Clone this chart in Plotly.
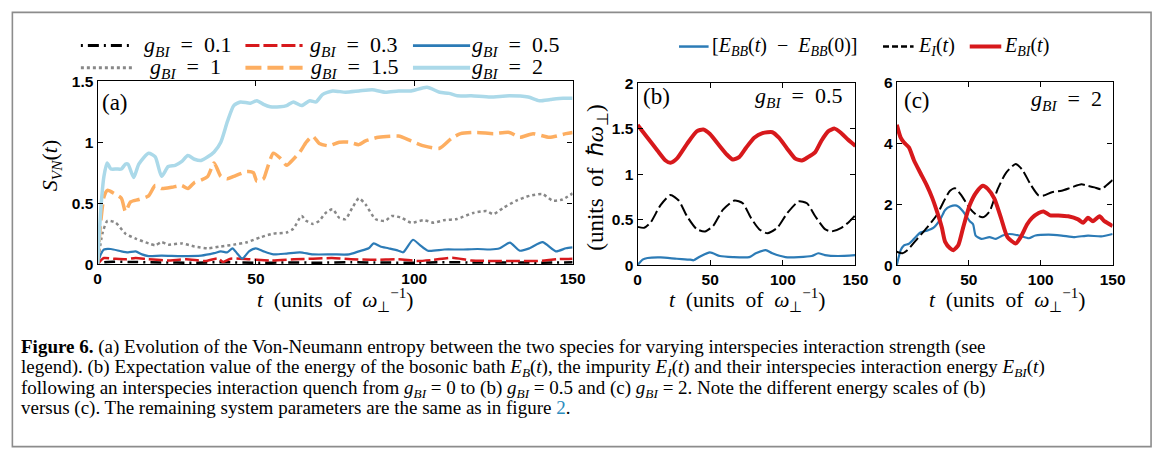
import plotly.graph_objects as go

W, H = 1168, 457

# ---------------- data ----------------
# panel (a): Von-Neumann entropy S_VN(t)
t_g01 = [0, 2, 5, 10, 20, 30, 40, 50, 60, 70, 80, 90, 100, 110, 120, 130, 140, 150]
s_g01 = [0, 0.015, 0.02, 0.018, 0.014, 0.012, 0.016, 0.011, 0.014, 0.012, 0.015, 0.013, 0.012, 0.016, 0.013, 0.014, 0.012, 0.015]

t_g03 = [0, 1, 2, 5, 9, 12, 16, 22, 28, 34, 38, 39.6, 42, 48, 55, 62, 68, 74, 80, 88, 95, 101, 106, 112, 118, 125, 132, 139, 145, 150]
s_g03 = [0, 0.03, 0.05, 0.045, 0.04, 0.05, 0.04, 0.03, 0.04, 0.026, 0.047, 0.018, 0.045, 0.04, 0.03, 0.04, 0.045, 0.05, 0.04, 0.035, 0.04, 0.026, 0.035, 0.053, 0.03, 0.026, 0.026, 0.026, 0.04, 0.045]

t_g05 = [0, 1, 2, 4.2, 7.5, 9.6, 12, 14, 16.1, 20.2, 26.5, 32.7, 36.8, 38.9, 41, 42.6, 44, 45.7, 47.8, 50, 52.4, 55.5, 59.7, 63.9, 68, 74.2, 79.4, 82.5, 85.6, 87.2, 89.3, 91.8, 95, 96.5, 99.6, 101.7, 104.3, 109.5, 114.7, 120, 124, 127, 130.2, 133.3, 136.4, 140.5, 144.7, 147.9, 150]
s_g05 = [0, 0.08, 0.12, 0.124, 0.105, 0.097, 0.105, 0.08, 0.066, 0.07, 0.066, 0.07, 0.09, 0.105, 0.097, 0.13, 0.09, 0.045, 0.105, 0.13, 0.105, 0.08, 0.087, 0.097, 0.08, 0.08, 0.08, 0.105, 0.13, 0.17, 0.145, 0.13, 0.11, 0.097, 0.2, 0.158, 0.11, 0.12, 0.12, 0.124, 0.12, 0.13, 0.176, 0.11, 0.13, 0.18, 0.105, 0.13, 0.137]

t_g1 = [0, 1.5, 3.1, 5.7, 8.8, 12, 16.1, 18.2, 20.2, 22.3, 26.5, 30.6, 34.8, 38.9, 43, 47.2, 51.4, 55.5, 59.7, 61.8, 64.4, 65.9, 68, 70, 72, 74.2, 76.3, 78.3, 80.4, 82.5, 84.6, 87.7, 90.8, 92.9, 96, 99, 103, 106.2, 109.3, 113.5, 118.6, 122.8, 125, 128, 132.2, 136.4, 140.5, 143.7, 146.8, 150]
s_g1 = [0, 0.25, 0.355, 0.34, 0.25, 0.21, 0.17, 0.155, 0.18, 0.16, 0.17, 0.145, 0.13, 0.145, 0.16, 0.18, 0.22, 0.25, 0.26, 0.29, 0.395, 0.355, 0.33, 0.355, 0.42, 0.45, 0.38, 0.37, 0.46, 0.54, 0.49, 0.37, 0.355, 0.395, 0.38, 0.34, 0.36, 0.34, 0.36, 0.37, 0.42, 0.435, 0.41, 0.46, 0.52, 0.56, 0.575, 0.52, 0.53, 0.58]

t_g15 = [0, 1, 2, 3.1, 5.2, 7.5, 8.8, 10.4, 13, 16.1, 18.2, 20.2, 23.4, 26.5, 28.5, 30.6, 32.7, 34.8, 36.8, 38.9, 41, 43, 47.2, 49.2, 50.3, 52.4, 53.5, 55.5, 57.6, 59.7, 61.8, 63.9, 65.9, 67.9, 70, 73, 76.3, 79.4, 82.5, 84.6, 88.7, 95, 99, 103, 108, 111.7, 114.6, 119.8, 125, 130, 133.3, 137.5, 142.7, 147.9, 150]
s_g15 = [0, 0.35, 0.55, 0.605, 0.58, 0.54, 0.43, 0.51, 0.53, 0.56, 0.645, 0.62, 0.63, 0.645, 0.62, 0.67, 0.69, 0.72, 0.83, 0.72, 0.70, 0.72, 0.76, 0.75, 0.68, 0.70, 0.78, 0.91, 0.87, 0.81, 0.86, 0.92, 1.0, 1.05, 0.99, 0.97, 1.0, 1.0, 0.98, 1.01, 1.04, 1.05, 1.01, 0.97, 0.95, 1.03, 1.07, 1.08, 1.07, 1.08, 1.04, 1.07, 1.04, 1.07, 1.08]

t_g2 = [0, 1, 2, 3, 4.2, 6, 7.5, 8.8, 9.6, 11.4, 13, 16.1, 18.2, 20.2, 22.3, 24.5, 26.5, 28.5, 30.6, 32.7, 34.8, 36.8, 38.9, 41, 43, 45.1, 48.2, 50.3, 52.4, 54.5, 57.6, 59.7, 61.8, 64.4, 67, 69, 71, 74.2, 78.3, 82.5, 86.7, 90.8, 95, 99, 104, 108, 111, 113.6, 118, 124, 130, 136, 139.5, 143, 147, 150]
s_g2 = [0, 0.45, 0.72, 0.83, 0.78, 0.78, 0.78, 0.82, 0.82, 0.71, 0.82, 0.91, 0.88, 0.72, 0.80, 0.81, 0.84, 0.89, 0.86, 0.85, 0.88, 0.92, 1.0, 1.17, 1.30, 1.33, 1.32, 1.34, 1.31, 1.29, 1.29, 1.30, 1.33, 1.30, 1.34, 1.33, 1.39, 1.42, 1.41, 1.42, 1.43, 1.41, 1.42, 1.42, 1.45, 1.41, 1.40, 1.38, 1.38, 1.37, 1.38, 1.37, 1.34, 1.35, 1.36, 1.36]

# panel (b): g_BI = 0.5 energies
tb_ebi = [0, 6.8, 13.6, 19.2, 22.6, 27, 33.9, 40.7, 45.2, 49.8, 55.4, 61.1, 65.6, 70.1, 74.7, 80.3, 86, 92.8, 97.3, 103, 108.6, 113.1, 117.6, 122.2, 126.7, 131.2, 135.7, 140.3, 144.8, 150]
eb_ebi = [1.54, 1.40, 1.26, 1.15, 1.125, 1.17, 1.33, 1.47, 1.49, 1.44, 1.33, 1.22, 1.16, 1.19, 1.29, 1.40, 1.45, 1.46, 1.40, 1.28, 1.17, 1.15, 1.19, 1.24, 1.37, 1.47, 1.50, 1.45, 1.38, 1.31]
tb_ei = [0, 4.5, 9, 15.8, 22.6, 28.3, 33.9, 40.7, 46.4, 52, 58.8, 66.7, 72.4, 78, 83.7, 89.4, 96.2, 103, 110.9, 116.6, 122.2, 129, 133.5, 140.3, 145.9, 150]
eb_ei = [0.42, 0.41, 0.47, 0.66, 0.77, 0.71, 0.54, 0.395, 0.37, 0.43, 0.61, 0.71, 0.68, 0.52, 0.395, 0.35, 0.41, 0.57, 0.70, 0.68, 0.54, 0.395, 0.37, 0.41, 0.48, 0.55]
tb_ebb = [0, 3.4, 6.8, 15.8, 27, 36.2, 38.5, 43, 49.8, 56.6, 65.6, 76.9, 81.4, 88.2, 92.8, 101.8, 110.9, 119.9, 124.4, 129, 138, 150]
eb_ebb = [0, 0.06, 0.078, 0.085, 0.07, 0.06, 0.053, 0.095, 0.14, 0.10, 0.088, 0.088, 0.13, 0.165, 0.13, 0.088, 0.088, 0.10, 0.13, 0.11, 0.10, 0.11]

# panel (c): g_BI = 2 energies
tc_ebi = [0, 2.7, 5, 8.4, 11.9, 16.4, 21, 24.4, 27.9, 31.3, 33.6, 37, 39.3, 42.7, 46.1, 50.7, 55.3, 59.8, 63.2, 67.8, 72.4, 76.9, 82.6, 86.1, 90.6, 94, 98.6, 102, 106.6, 112.3, 119.2, 126, 129.5, 132.9, 136.3, 140.9, 144.3, 150]
ec_ebi = [4.6, 4.18, 4.02, 3.86, 3.44, 3.02, 2.6, 2.23, 1.76, 1.23, 0.76, 0.55, 0.49, 0.65, 1.23, 1.97, 2.39, 2.6, 2.5, 2.18, 1.55, 0.92, 0.71, 0.92, 1.34, 1.55, 1.71, 1.76, 1.63, 1.63, 1.6, 1.5, 1.39, 1.55, 1.44, 1.6, 1.44, 1.28]
tc_ei = [0, 3.9, 7.3, 14.2, 21, 27.9, 32.4, 37, 40.4, 45, 50.7, 55.3, 59.8, 64.4, 70.1, 75.8, 82.6, 87.2, 92.9, 98.6, 102, 107.8, 114.6, 121.5, 128.3, 132.9, 137.4, 142, 145.4, 150]
ec_ei = [0.44, 0.39, 0.49, 0.86, 1.23, 1.65, 2.07, 2.44, 2.52, 2.28, 1.86, 1.65, 1.57, 1.76, 2.49, 3.02, 3.32, 3.13, 2.65, 2.28, 2.28, 2.39, 2.44, 2.55, 2.65, 2.6, 2.55, 2.49, 2.6, 2.79]
tc_ebb = [0, 2.7, 5, 8.4, 11.9, 16.4, 21, 25.6, 30.1, 33.6, 37, 41.6, 46.1, 50.7, 53, 54.8, 58.7, 64.4, 68.9, 73.5, 78.1, 84.9, 91.8, 96.3, 105.5, 114.6, 123.7, 132.9, 142, 150]
ec_ebb = [0, 0.49, 0.65, 0.7, 0.86, 1.07, 1.13, 1.23, 1.49, 1.81, 1.92, 1.95, 1.76, 1.44, 1.34, 0.97, 0.86, 0.92, 0.86, 0.97, 1.02, 0.97, 0.88, 0.97, 1.0, 0.97, 0.92, 0.97, 0.94, 1.02]

x_ticks = [0, 50, 100, 150]
ya_ticks = [0, 0.5, 1, 1.5]
ya_labels = ["0", "0.5", "1", "1.5"]
yb_ticks = [0, 0.5, 1, 1.5, 2]
yb_labels = ["0", "0.5", "1", "1.5", "2"]
yc_ticks = [0, 2, 4, 6]

caption_lines = [
    "<b>Figure 6.</b> (a) Evolution of the Von-Neumann entropy between the two species for varying interspecies interaction strength (see",
    "legend). (b) Expectation value of the energy of the bosonic bath <i>E<sub>B</sub></i>(<i>t</i>), the impurity <i>E<sub>I</sub></i>(<i>t</i>) and their interspecies interaction energy <i>E<sub>BI</sub></i>(<i>t</i>)",
    "following an interspecies interaction quench from <i>g<sub>BI</sub></i> = 0 to (b) <i>g<sub>BI</sub></i> = 0.5 and (c) <i>g<sub>BI</sub></i> = 2. Note the different energy scales of (b)",
    "versus (c). The remaining system parameters are the same as in figure <span style='color:#2b8cbe'>2</span>.",
]

# ---------------- styles ----------------
RED, ORANGE, LBLUE, BLUE = "#d7191c", "#fdae61", "#abd9e9", "#2c7bb6"
GRAY = "#888888"
SERIF = "Liberation Serif"
SANS = "Liberation Sans"
SP = "\u2002"

def X(p):
    return p / W

def Y(p):
    return 1 - p / H

a_series = [
    (t_g01, s_g01, "black", 2.5, "2px,5px,11px,5px", "0.1"),
    (t_g03, s_g03, RED, 2.5, "14px,4px", "0.3"),
    (t_g05, s_g05, BLUE, 2.2, "solid", "0.5"),
    (t_g1, s_g1, GRAY, 2.5, "dot", "1"),
    (t_g15, s_g15, ORANGE, 3.5, "16px,6px", "1.5"),
    (t_g2, s_g2, LBLUE, 3.5, "solid", "2"),
]

fig = go.Figure()
for t, s, c, w, d, lab in a_series:
    fig.add_trace(go.Scatter(x=t, y=s, mode="lines", xaxis="x", yaxis="y",
                             line=dict(color=c, width=w, dash=d, shape="spline", smoothing=0.6),
                             showlegend=False, name="g_BI = " + lab))

bc_series = [
    ("x2", "y2", tb_ebb, eb_ebb, BLUE, 2.2, "solid"),
    ("x2", "y2", tb_ei, eb_ei, "black", 2.0, "12px,4px"),
    ("x2", "y2", tb_ebi, eb_ebi, RED, 4.0, "solid"),
    ("x3", "y3", tc_ebb, ec_ebb, BLUE, 2.2, "solid"),
    ("x3", "y3", tc_ei, ec_ei, "black", 2.0, "12px,4px"),
    ("x3", "y3", tc_ebi, ec_ebi, RED, 4.0, "solid"),
]
for xa, ya, t, e, c, w, d in bc_series:
    fig.add_trace(go.Scatter(x=t, y=e, mode="lines", xaxis=xa, yaxis=ya,
                             line=dict(color=c, width=w, dash=d, shape="spline", smoothing=0.6),
                             showlegend=False))

tickfont = dict(family=SANS, size=15.5, color="black", weight="bold")
common = dict(showline=True, linecolor="black", linewidth=1.3, mirror="ticks",
              ticks="inside", ticklen=5, tickwidth=1.3, tickcolor="black",
              showgrid=False, zeroline=False, tickfont=tickfont, fixedrange=True)

layout = dict(
    width=W, height=H, margin=dict(l=0, r=0, t=0, b=0),
    paper_bgcolor="white", plot_bgcolor="white", showlegend=False,
    xaxis=dict(domain=[X(95), X(577)], range=[0, 150], tickvals=x_ticks, anchor="y", **common),
    yaxis=dict(domain=[Y(265), Y(75)], range=[0, 1.5], tickvals=ya_ticks, ticktext=ya_labels, anchor="x", **common),
    xaxis2=dict(domain=[X(643), X(864)], range=[0, 150], tickvals=x_ticks, anchor="y2", **common),
    yaxis2=dict(domain=[Y(266), Y(77)], range=[0, 2], tickvals=yb_ticks, ticktext=yb_labels, anchor="x2", **common),
    xaxis3=dict(domain=[X(906), X(1125)], range=[0, 150], tickvals=x_ticks, anchor="y3", **common),
    yaxis3=dict(domain=[Y(266), Y(76)], range=[0, 6], tickvals=yc_ticks, anchor="x3", **common),
)
fig.update_layout(**layout)

ann = []
shapes = []

def text(x, y, s, size=20, xanchor="left", angle=0, family=SERIF, color="black", yanchor="middle"):
    ann.append(dict(x=X(x), y=Y(y), xref="paper", yref="paper", text=s, showarrow=False,
                    xanchor=xanchor, yanchor=yanchor, textangle=angle, align="left",
                    font=dict(family=family, size=size, color=color)))

def sample(x0, x1, y, color, width, dash):
    shapes.append(dict(type="line", xref="paper", yref="paper", x0=X(x0), x1=X(x1), y0=Y(y), y1=Y(y),
                       line=dict(color=color, width=width, dash=dash)))

gbi = "<i>g</i><sub><i>BI</i></sub>" + SP + "=" + SP
# legend of panel (a)
leg_pos = [(78, 128, 140, 38), (245, 303, 308, 38), (415, 473, 473, 38),
           (78, 132, 146, 61), (245, 303, 310, 61), (415, 473, 473, 61)]
for (t, s, c, w, d, lab), (sx0, sx1, tx, ty) in zip(a_series, leg_pos):
    sample(sx0, sx1, ty, c, w + 0.5, d)
    text(tx, ty, gbi + lab, size=22)

# legend of panels (b), (c)
sample(685, 715, 39, BLUE, 2.5, "solid")
text(716, 39, "[<i>E</i><sub><i>BB</i></sub>(<i>t</i>)" + SP + "−" + SP + "<i>E</i><sub><i>BB</i></sub>(0)]", size=20)
sample(892, 923, 39, "black", 2.5, "6px,3px")
text(925, 39, "<i>E</i><sub><i>I</i></sub>(<i>t</i>)", size=20)
sample(980, 1012, 39, RED, 4, "solid")
text(1013, 39, "<i>E</i><sub><i>BI</i></sub>(<i>t</i>)", size=20)

# panel labels
text(97, 97, "(a)", size=23)
text(646, 91, "(b)", size=23)
text(852, 91, gbi + "0.5", size=22, xanchor="right")
text(911, 95, "(c)", size=23)
text(1116, 95, gbi + "2", size=22, xanchor="right")

# axis titles
xt = "<i>t</i>" + SP + "(units" + SP + "of" + SP + "<i>ω</i><sub>⊥</sub><sup>−1</sup>)"
text(336, 302, xt, size=21.5, xanchor="center")
text(754, 302, xt, size=21.5, xanchor="center")
text(1018, 302, xt, size=21.5, xanchor="center")
text(48, 163, "<i>S</i><sub><i>VN</i></sub>(<i>t</i>)", size=22, xanchor="center", angle=-90)
text(602, 175, "(units" + SP + "of" + SP + "ℏ<i>ω</i><sub>⊥</sub>)", size=23, xanchor="center", angle=-90)

# caption: one text block, line pitch set by the block font, glyph size by the spans
cap_text = "<br>".join("<span style='font-size:19px'>" + ln + "</span>" for ln in caption_lines)
text(15, 382.5, cap_text, size=15.6)

# frame
shapes.append(dict(type="rect", xref="paper", yref="paper", x0=X(8.5), x1=X(1164), y0=Y(454.5), y1=Y(3.5),
                   line=dict(color="#8c8c8c", width=1.6)))

fig.update_layout(annotations=ann, shapes=shapes)
fig.write_html("out.html", config={"displayModeBar": False},
               post_script="document.body.style.margin='0';")
